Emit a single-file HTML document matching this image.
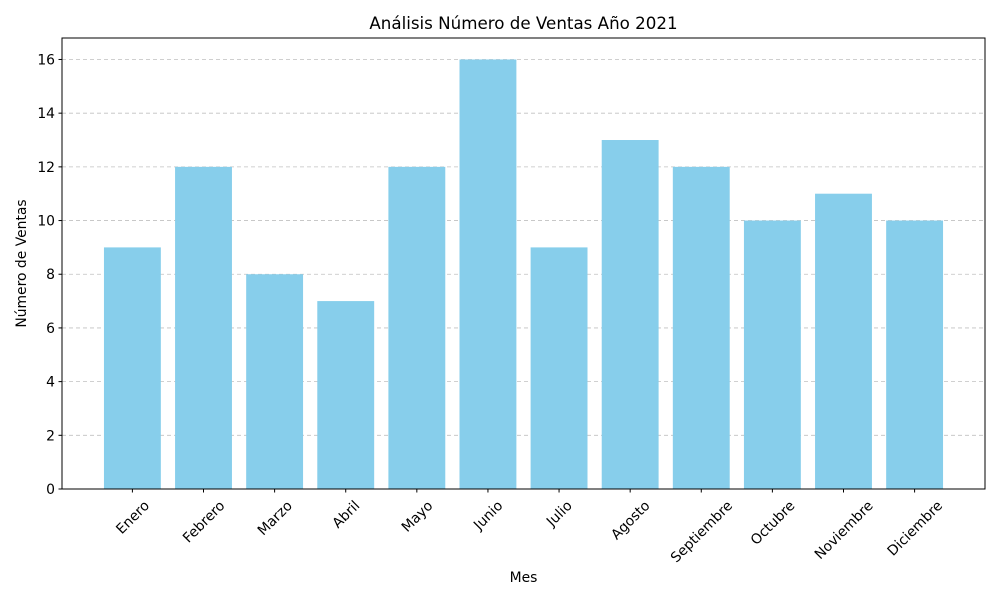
<!DOCTYPE html>
<html><head><meta charset="utf-8"><style>
body{margin:0;background:#fff}
svg{font-family:"DejaVu Sans","Liberation Sans",sans-serif}
</style></head><body>
<svg id="c" width="1000" height="600" xmlns="http://www.w3.org/2000/svg">
<rect width="1000" height="600" fill="#fff"/>
<text x="523.5" y="29" font-size="16.7" text-anchor="middle">Análisis Número de Ventas Año 2021</text>
<g id="grid"></g><g id="bars"></g>
<rect x="62" y="38" width="923" height="451" fill="none" stroke="#000" stroke-width="1"/>
<g id="yt"></g><g id="xt"></g>
<text x="523.5" y="582" font-size="13.9" text-anchor="middle">Mes</text>
<text transform="translate(26,263.5) rotate(-90)" font-size="13.9" text-anchor="middle">Número de Ventas</text>
</svg>
<script>
const categories=["Enero","Febrero","Marzo","Abril","Mayo","Junio","Julio","Agosto","Septiembre","Octubre","Noviembre","Diciembre"];
const sales=[9,12,8,7,12,16,9,13,12,10,11,10];
const yTicks=[0,2,4,6,8,10,12,14,16];
const NS="http://www.w3.org/2000/svg";
const L=62,R=985,T=38,B=489;
const ymax=Math.max(...sales)*1.05;
const y=v=>B-(v/ymax)*(B-T);
const n=categories.length, x0=-0.4-0.05*(n-0.2), x1=n-1+0.4+0.05*(n-0.2);
const x=i=>L+(i-x0)/(x1-x0)*(R-L);
const bw=0.8*(R-L)/(x1-x0);
function mk(t,a,p){const e=document.createElementNS(NS,t);for(const k in a)e.setAttribute(k,a[k]);p.appendChild(e);return e;}
const grid=document.getElementById('grid'),yt=document.getElementById('yt'),xt=document.getElementById('xt'),bars=document.getElementById('bars');
yTicks.forEach(v=>{
 const g=mk('line',{x1:L,x2:R,y1:y(v),y2:y(v),stroke:'#c0c0c0','stroke-dasharray':'4,3','stroke-width':0.8},grid);
 
 
 const tk=mk('line',{x1:L-3.5,x2:L,y1:y(v),y2:y(v),stroke:'#000'},yt);
 
 
 const t=mk('text',{x:L-7,y:y(v)+5,'font-size':13.9,'text-anchor':'end'},yt);t.textContent=v;
 
 
});
categories.forEach((c,i)=>{
 const b=mk('rect',{x:x(i)-bw/2,y:y(sales[i]),width:bw,height:B-y(sales[i]),fill:'#87ceeb'},bars);
 
 
 const tk=mk('line',{x1:x(i),x2:x(i),y1:B,y2:B+3.5,stroke:'#000'},xt);
 
 
 const t=mk('text',{'font-size':13.9,'text-anchor':'middle'},xt);t.textContent=c;
 
 
 const w=t.getComputedTextLength(),h=(w+11)*0.7071;
 const cy=B+10+h/2;
 t.setAttribute('x',x(i));t.setAttribute('y',cy+5);
 t.setAttribute('transform','rotate(-45 '+x(i)+' '+cy+')');
});
</script>
</body></html>
